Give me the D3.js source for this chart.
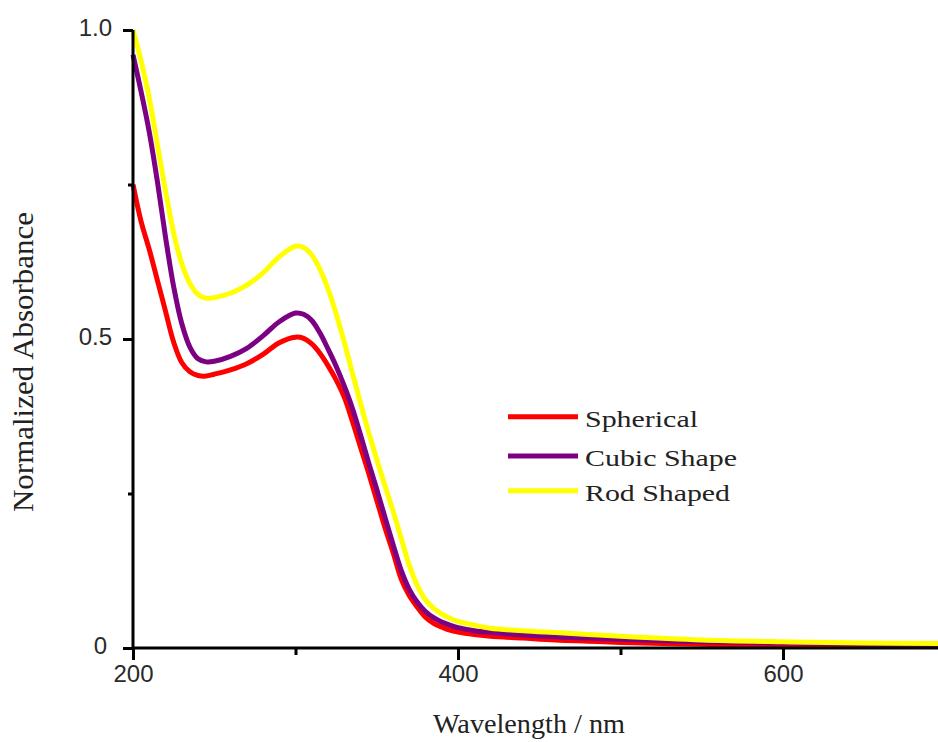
<!DOCTYPE html>
<html>
<head>
<meta charset="utf-8">
<script src="https://cdn.jsdelivr.net/npm/d3@7"></script>
<style>
  html, body { margin: 0; padding: 0; background: #fff; }
  svg { display: block; }
</style>
</head>
<body>
<svg id="chart" width="938" height="742"></svg>
<script>
// Wavelength grid (nm)
const wavelength = [200,205,210,215,220,225,230,235,240,245,250,260,270,280,290,300,305,310,315,320,325,330,335,340,345,350,355,360,365,370,375,380,385,390,395,400,410,420,440,460,480,500,550,600,650,700];

// Normalized absorbance for each particle shape
const spherical = [0.75,0.69,0.645,0.595,0.545,0.495,0.462,0.447,0.441,0.440,0.443,0.450,0.460,0.475,0.494,0.503,0.501,0.492,0.477,0.457,0.434,0.406,0.367,0.325,0.283,0.239,0.195,0.155,0.112,0.085,0.066,0.050,0.040,0.034,0.029,0.026,0.022,0.019,0.016,0.013,0.011,0.009,0.006,0.004,0.003,0.003];
const cubic = [0.96,0.90,0.835,0.755,0.665,0.585,0.525,0.487,0.468,0.463,0.464,0.472,0.485,0.505,0.528,0.542,0.540,0.530,0.510,0.484,0.456,0.424,0.388,0.345,0.300,0.257,0.212,0.168,0.126,0.095,0.074,0.059,0.049,0.042,0.037,0.033,0.028,0.025,0.021,0.018,0.016,0.014,0.010,0.008,0.006,0.005];
const rod = [1.00,0.95,0.89,0.815,0.74,0.672,0.622,0.59,0.572,0.566,0.567,0.574,0.587,0.607,0.633,0.650,0.648,0.636,0.613,0.581,0.541,0.495,0.445,0.396,0.349,0.305,0.263,0.222,0.178,0.134,0.101,0.078,0.064,0.055,0.048,0.043,0.037,0.032,0.028,0.025,0.022,0.019,0.013,0.010,0.008,0.007];

const seriesNames = ["Spherical", "Cubic Shape", "Rod Shaped"];
const seriesColors = ["#ff0000", "#7b0083", "#ffff00"];
const seriesValues = [spherical, cubic, rod];

const xTicks = [200, 300, 400, 500, 600, 700];
const xTickLabels = { 200: "200", 400: "400", 600: "600" };
const yTicks = [0, 0.25, 0.5, 0.75, 1.0];
const yTickLabels = { 0: "0", 0.5: "0.5", 1: "1.0" };

const svg = d3.select("#chart");
const x = d3.scaleLinear().domain([200, 700]).range([133, 945.5]);
const y = d3.scaleLinear().domain([0, 1]).range([648, 30]);

// Data lines
const line = d3.line()
  .x(d => x(d[0]))
  .y(d => y(d[1]))
  .curve(d3.curveCatmullRom.alpha(0.5));

seriesValues.forEach((vals, i) => {
  svg.append("path")
    .datum(wavelength.map((w, j) => [w, vals[j]]))
    .attr("fill", "none")
    .attr("stroke", seriesColors[i])
    .attr("stroke-width", 5)
    .attr("stroke-linejoin", "round")
    .attr("d", line);
});

// Axes: labelled ticks are long, unlabelled ones short
const xAxis = d3.axisBottom(x)
  .tickValues(xTicks)
  .tickSize(12)
  .tickPadding(5)
  .tickFormat(d => xTickLabels[d] || "");
const yAxis = d3.axisLeft(y)
  .tickValues(yTicks)
  .tickSize(10)
  .tickPadding(11)
  .tickFormat(d => yTickLabels[d] !== undefined ? yTickLabels[d] : "");

const gx = svg.append("g").attr("transform", "translate(0,648)").call(xAxis);
const gy = svg.append("g").attr("transform", "translate(133,0)").call(yAxis);

[gx, gy].forEach(g => {
  g.select(".domain").attr("stroke", "#000").attr("stroke-width", 3);
  g.selectAll(".tick line").attr("stroke", "#000").attr("stroke-width", 3);
  g.selectAll(".tick text")
    .attr("fill", "#2a2a2a")
    .style("font-family", "'Liberation Sans', Arial, sans-serif")
    .style("font-size", "24px");
});
gx.select(".domain").attr("d", "M133,0H938");
gy.select(".domain").attr("d", "M0,30V648");
gx.selectAll(".tick").filter(d => !xTickLabels[d]).select("line").attr("y2", 7);
gy.selectAll(".tick").filter(d => yTickLabels[d] === undefined).select("line").attr("x2", -5);
gy.selectAll(".tick text").attr("dy", "0.22em");
gy.selectAll(".tick").filter(d => d === 0).select("text").attr("x", -26);

// Axis titles
svg.append("text")
  .attr("x", 529).attr("y", 733)
  .attr("text-anchor", "middle")
  .attr("textLength", 192)
  .attr("lengthAdjust", "spacingAndGlyphs")
  .style("font-family", "'Liberation Serif', 'Times New Roman', serif")
  .style("font-size", "27px")
  .attr("fill", "#222")
  .text("Wavelength / nm");

svg.append("text")
  .attr("transform", "translate(33,362) rotate(-90)")
  .attr("text-anchor", "middle")
  .attr("textLength", 300)
  .attr("lengthAdjust", "spacingAndGlyphs")
  .style("font-family", "'Liberation Serif', 'Times New Roman', serif")
  .style("font-size", "29px")
  .attr("fill", "#222")
  .text("Normalized Absorbance");

// Legend
const legendRows = [416.7, 456, 490.7];
const legendWidths = [113, 152, 145];
const legend = svg.append("g").attr("transform", "translate(508,0)");
seriesNames.forEach((name, i) => {
  const row = legend.append("g").attr("transform", `translate(0,${legendRows[i]})`);
  row.append("line")
    .attr("x1", 0).attr("x2", 70)
    .attr("y1", 0).attr("y2", 0)
    .attr("stroke", seriesColors[i])
    .attr("stroke-width", 5);
  row.append("text")
    .attr("x", 77).attr("y", 10)
    .attr("textLength", legendWidths[i])
    .attr("lengthAdjust", "spacingAndGlyphs")
    .style("font-family", "'Liberation Serif', 'Times New Roman', serif")
    .style("font-size", "24px")
    .attr("fill", "#222")
    .text(name);
});
</script>
</body>
</html>
